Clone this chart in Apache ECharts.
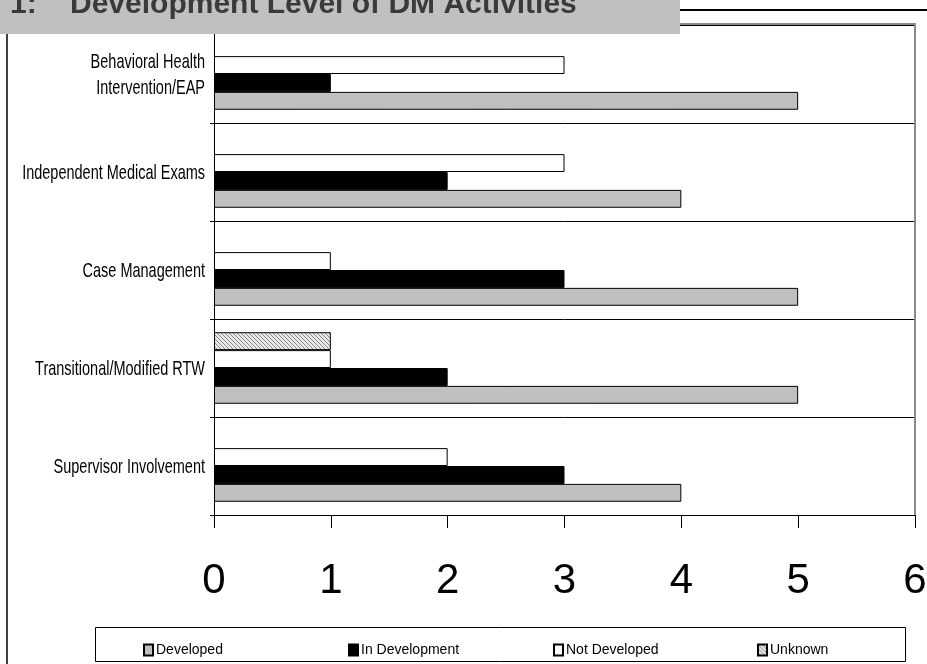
<!DOCTYPE html>
<html>
<head>
<meta charset="utf-8">
<script src="https://cdn.jsdelivr.net/npm/echarts@6/dist/echarts.min.js"></script>
<style>
  html, body { margin: 0; padding: 0; background: #fff; }
  #chart { width: 927px; height: 664px; }
</style>
</head>
<body>
<div id="chart"></div>
<script>
// Activities, listed from the bottom of the axis to the top
const categories = [
  'Supervisor Involvement',
  'Transitional/Modified RTW',
  'Case Management',
  'Independent Medical Exams',
  'Behavioral Health\nIntervention/EAP'
];
const developed      = [4, 5, 5, 4, 5];
const inDevelopment  = [3, 2, 3, 2, 1];
const notDeveloped   = [2, 1, 1, 3, 3];
const unknown        = [0, 1, 0, 0, 0];
const xTicks = [0, 1, 2, 3, 4, 5, 6];

const titleText = '1:    Development Level of DM Activities';
const FONT = '"Liberation Sans", Arial, sans-serif';

// diagonal hatch used for the "Unknown" bars
function hatch() {
  const c = document.createElement('canvas');
  c.width = 4; c.height = 4;
  const g = c.getContext('2d');
  g.fillStyle = '#e8e8e8';
  g.fillRect(0, 0, 4, 4);
  g.strokeStyle = '#8a8a8a';
  g.lineWidth = 1;
  g.beginPath();
  g.moveTo(-1, -1); g.lineTo(5, 5);
  g.moveTo(3, -1); g.lineTo(5, 1);
  g.moveTo(-1, 3); g.lineTo(1, 5);
  g.stroke();
  return c;
}

const chart = echarts.init(document.getElementById('chart'), null, { renderer: 'canvas' });

function barSeries(name, data, color) {
  return {
    name: name,
    type: 'bar',
    // a zero count leaves its slot empty instead of drawing a hairline
    data: data.map(function (v) { return v === 0 ? '-' : v; }),
    barGap: '0%',
    barCategoryGap: '27%',
    itemStyle: { color: color, borderColor: '#000', borderWidth: 1 },
    emphasis: { disabled: true },
    animation: false
  };
}

const legendItems = [
  { name: 'Developed', left: 138 },
  { name: 'In Development', left: 343 },
  { name: 'Not Developed', left: 548 },
  { name: 'Unknown', left: 752 }
];

const staticGraphics = [
  // frame around the plot
  { type: 'polyline', silent: true, z: 1,
    shape: { points: [[680, 24], [915, 24], [915, 515]] },
    style: { stroke: '#8c8c8c', lineWidth: 2, fill: null } },
  // rule to the right of the heading
  { type: 'line', silent: true, shape: { x1: 680, y1: 10, x2: 927, y2: 10 },
    style: { stroke: '#000', lineWidth: 2 } },
  // left page rule
  { type: 'line', silent: true, shape: { x1: 7, y1: 34, x2: 7, y2: 664 },
    style: { stroke: '#000', lineWidth: 1.5 } },
  // legend frame
  { type: 'rect', silent: true, shape: { x: 95.5, y: 627.5, width: 810, height: 34 },
    style: { stroke: '#000', lineWidth: 1, fill: null } },
  // heading band
  { type: 'rect', silent: true, z: 100, shape: { x: 0, y: 0, width: 680, height: 34 },
    style: { fill: '#c0c0c0' } },
  { type: 'text', silent: true, z: 101, x: 10, y: 4.5,
    style: { text: titleText, fill: '#3a3a3a', font: 'bold 30px ' + FONT, verticalAlign: 'middle' } }
];

chart.setOption({
  animation: false,
  backgroundColor: '#fff',
  grid: { left: 214, right: 12, top: 25, bottom: 149, containLabel: false, outerBoundsMode: 'none' },
  xAxis: {
    type: 'value',
    min: xTicks[0],
    max: xTicks[xTicks.length - 1],
    interval: 1,
    axisLine: { show: true, lineStyle: { color: '#000', width: 1 } },
    axisTick: { show: true, length: 13, lineStyle: { color: '#000', width: 1 } },
    splitLine: { show: false },
    axisLabel: { color: '#000', fontSize: 42, fontFamily: FONT, margin: 45 }
  },
  yAxis: {
    type: 'category',
    data: categories,
    axisLine: { show: true, lineStyle: { color: '#000', width: 1 } },
    axisTick: { show: true, length: 4, lineStyle: { color: '#000' } },
    splitLine: { show: true, lineStyle: { color: '#000', width: 1 } },
    // category names are drawn below as condensed text at the axis positions
    axisLabel: { show: false }
  },
  legend: legendItems.map(function (it) {
    return {
      data: [it.name],
      left: it.left,
      top: 638,
      icon: 'rect',
      itemWidth: 9,
      itemHeight: 11,
      itemGap: 4,
      selectedMode: false,
      textStyle: { color: '#000', fontSize: 14, fontFamily: FONT, padding: [0, 0, 0, -2] }
    };
  }),
  // top of each band: Unknown, Not Developed, In Development, Developed
  series: [
    barSeries('Unknown', unknown, { image: hatch(), repeat: 'repeat' }),
    barSeries('Not Developed', notDeveloped, '#fff'),
    barSeries('In Development', inDevelopment, '#000'),
    barSeries('Developed', developed, '#c0c0c0')
  ],
  graphic: staticGraphics
});

// condensed category labels, placed at the y-axis category positions
const axisX = chart.convertToPixel({ xAxisIndex: 0 }, xTicks[0]);
const labelGraphics = categories.map(function (name) {
  const y = chart.convertToPixel({ yAxisIndex: 0 }, name);
  return {
    type: 'text', silent: true,
    x: axisX - 9, y: y + 1,
    scaleX: 0.69,
    style: {
      text: name, fill: '#000', font: '21px ' + FONT,
      align: 'right', verticalAlign: 'middle', lineHeight: 26
    }
  };
});
chart.setOption({ graphic: staticGraphics.concat(labelGraphics) });
</script>
</body>
</html>
